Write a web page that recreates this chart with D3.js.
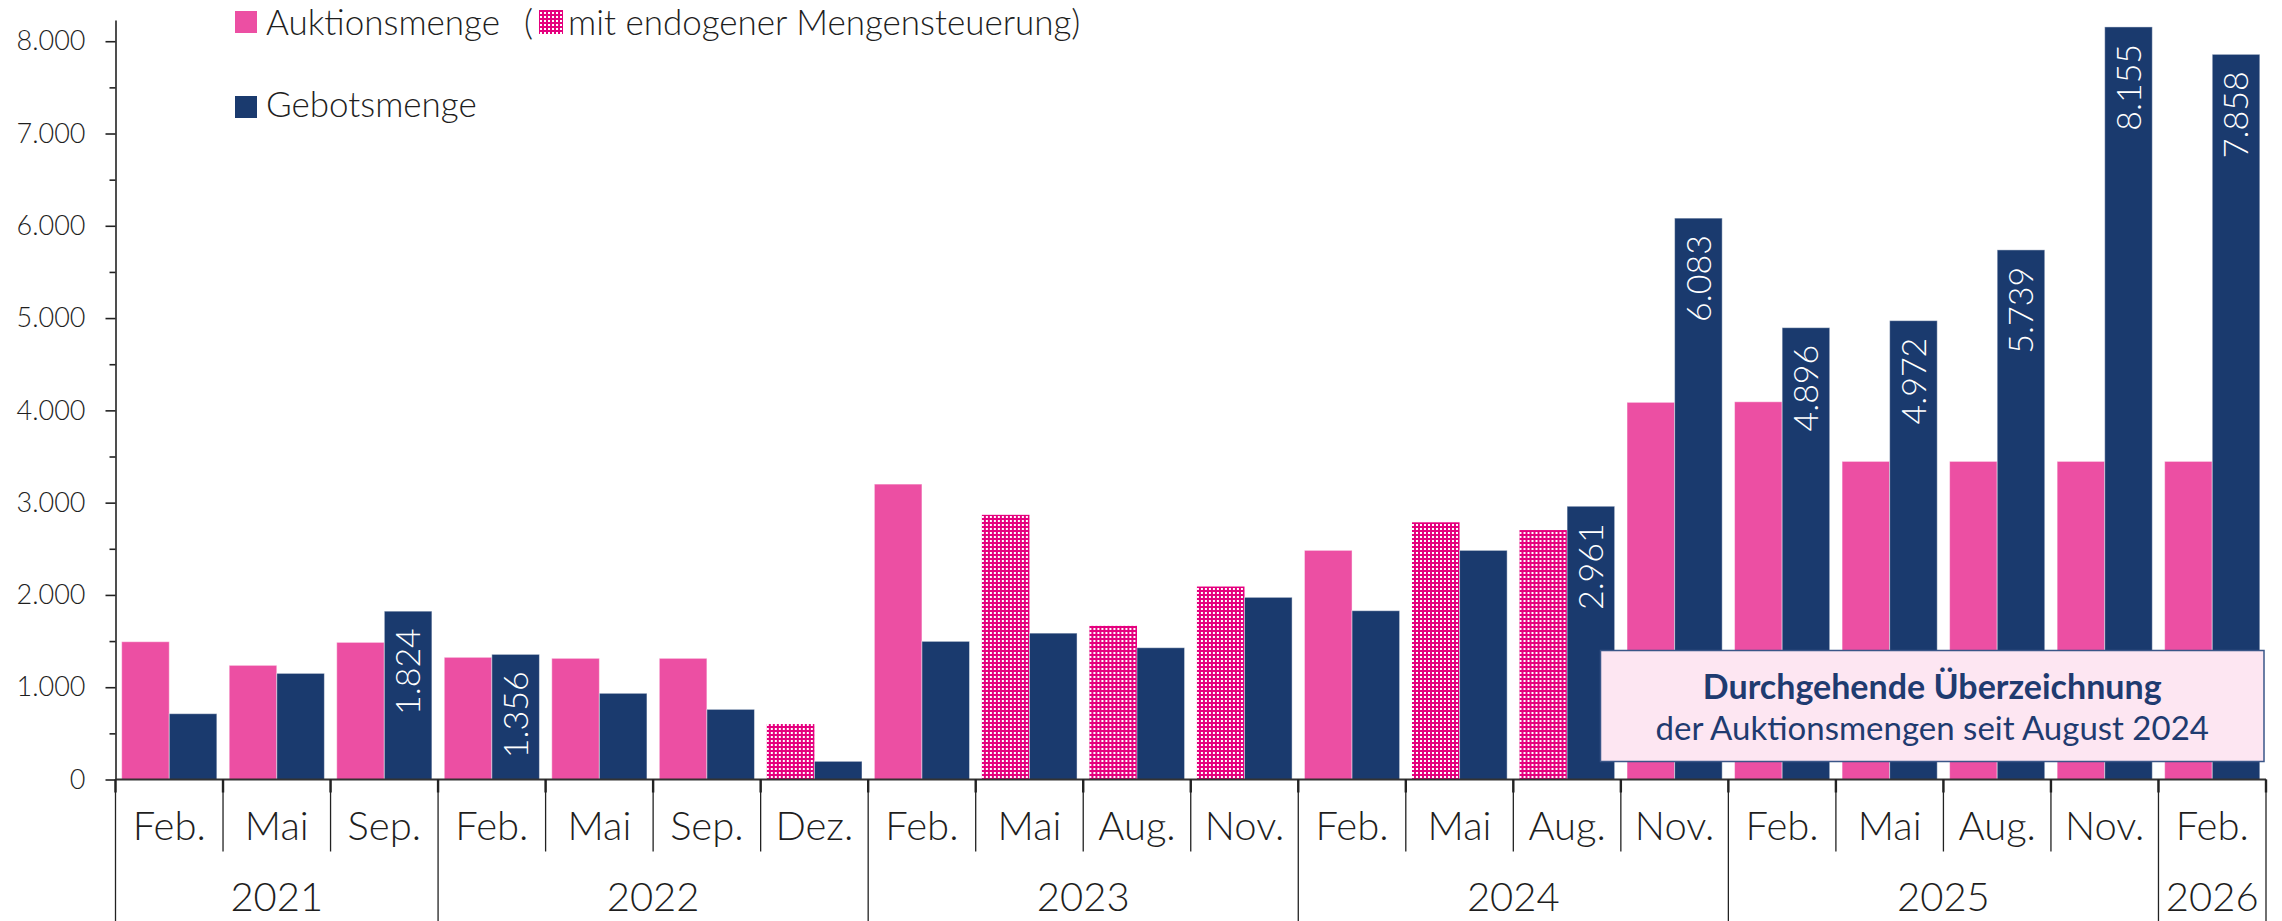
<!DOCTYPE html>
<html>
<head>
<meta charset="utf-8">
<script src="https://cdn.jsdelivr.net/npm/d3@7"></script>
<style>
  body { margin: 0; background: #fff; }
  svg { display: block; font-family: Lato, "Open Sans", sans-serif; }
  .y-label { font-size: 27px; font-weight: 300; fill: #1e1e1e; }
  .x-label { font-size: 40px; font-weight: 300; fill: #1e1e1e; }
  .legend-text { font-size: 35px; font-weight: 300; fill: #1e1e1e; }
  .value-label { font-size: 34px; font-weight: 300; fill: #fff; }
</style>
</head>
<body>
<svg class="svg-chart" width="2282" height="921"></svg>
<script>
// Auktionsrunden (Monat + Jahr)
const months = ["Feb.", "Mai", "Sep.", "Feb.", "Mai", "Sep.", "Dez.", "Feb.", "Mai", "Aug.", "Nov.",
  "Feb.", "Mai", "Aug.", "Nov.", "Feb.", "Mai", "Aug.", "Nov.", "Feb."];
const years = ["2021", "2021", "2021", "2022", "2022", "2022", "2022", "2023", "2023", "2023", "2023",
  "2024", "2024", "2024", "2024", "2025", "2025", "2025", "2025", "2026"];

// Werte in MW
const auktionsmenge = [1493, 1237, 1486, 1324, 1313, 1313, 601, 3201, 2868, 1665, 2091,
  2483, 2787, 2703, 4087, 4093, 3447, 3447, 3447, 3447];
const gebotsmenge = [713, 1150, 1824, 1356, 934, 760, 197, 1497, 1586, 1428, 1974,
  1829, 2483, 2961, 6083, 4896, 4972, 5739, 8155, 7858];
// Runden mit endogener Mengensteuerung
const endogen = [false, false, false, false, false, false, true, false, true, true, true,
  false, true, true, false, false, false, false, false, false];

const yTicks = [0, 1000, 2000, 3000, 4000, 5000, 6000, 7000, 8000];
const yMinorTicks = [500, 1500, 2500, 3500, 4500, 5500, 6500, 7500];

const PINK = "#EC4FA3";
const MAGENTA = "#E5007E";
const NAVY = "#1A3A6E";

class ChartService {
  constructor() {
    this.svg = d3.select(".svg-chart");
    this.margin = { top: 20, right: 16, bottom: 141.5, left: 115.5 };
    this.width = +this.svg.attr("width") - this.margin.left - this.margin.right;
    this.height = +this.svg.attr("height") - this.margin.top - this.margin.bottom;

    this.locale = d3.formatLocale({ decimal: ",", thousands: ".", grouping: [3], currency: ["", " €"] });
    this.fmt = this.locale.format(",");

    this.rows = months.map(function (m, i) {
      return { id: i, month: m, year: years[i], auktion: auktionsmenge[i], gebot: gebotsmenge[i], endogen: endogen[i] };
    });

    this.prepare();
    this.drawBars();
    this.drawAxes();
    this.drawLegend();
    this.drawNote();
  }

  prepare() {
    this.x0 = d3.scaleBand()
      .domain(this.rows.map(function (d) { return d.id; }))
      .range([0, this.width])
      .paddingInner(0.115)
      .paddingOuter(0.0575);
    this.x1 = d3.scaleBand()
      .domain(["auktion", "gebot"])
      .range([0, this.x0.bandwidth()]);
    this.y = d3.scaleLinear().domain([0, 8230]).range([this.height, 0]);

    // Karomuster fuer endogene Mengensteuerung
    const defs = this.svg.append("defs");
    const pat = defs.append("pattern")
      .attr("id", "endogen")
      .attr("width", 4).attr("height", 4)
      .attr("patternUnits", "userSpaceOnUse");
    pat.append("rect").attr("width", 4).attr("height", 4).attr("fill", MAGENTA);
    pat.append("rect").attr("x", 0).attr("y", 0).attr("width", 2).attr("height", 2).attr("fill", "#fff");

    this.focus = this.svg.append("g")
      .attr("transform", "translate(" + this.margin.left + "," + this.margin.top + ")");
  }

  // linke Kante einer Gruppe (Trennlinie)
  edge(i) {
    if (i >= this.rows.length) return this.width;
    return this.x0(i) - this.x0.step() * this.x0.paddingInner() / 2;
  }

  drawBars() {
    const self = this;
    const groups = this.focus.append("g").attr("class", "bars")
      .selectAll("g")
      .data(this.rows)
      .enter().append("g")
      .attr("transform", function (d) { return "translate(" + self.x0(d.id) + ",0)"; });

    groups.append("rect")
      .attr("x", this.x1("auktion"))
      .attr("y", function (d) { return self.y(d.auktion); })
      .attr("width", this.x1.bandwidth())
      .attr("height", function (d) { return self.height - self.y(d.auktion); })
      .attr("fill", function (d) { return d.endogen ? "url(#endogen)" : PINK; })
      .attr("stroke", function (d) { return d.endogen ? "none" : "#fff"; })
      .attr("stroke-opacity", 0.45)
      .attr("stroke-width", 1);

    groups.append("rect")
      .attr("x", this.x1("gebot"))
      .attr("y", function (d) { return self.y(d.gebot); })
      .attr("width", this.x1.bandwidth())
      .attr("height", function (d) { return self.height - self.y(d.gebot); })
      .attr("fill", NAVY)
      .attr("stroke", "#fff")
      .attr("stroke-opacity", 0.45)
      .attr("stroke-width", 1);

    // Wert nur bei Überzeichnung
    groups.filter(function (d) { return d.gebot > d.auktion; })
      .append("text")
      .attr("class", "value-label")
      .attr("transform", function (d) {
        return "translate(" + (self.x1("gebot") + self.x1.bandwidth() / 2) + "," + (self.y(d.gebot) + 17) + ") rotate(-90)";
      })
      .attr("text-anchor", "end")
      .attr("dy", "0.36em")
      .text(function (d) { return self.fmt(d.gebot); });
  }

  drawAxes() {
    const self = this;
    const yAxis = d3.axisLeft(this.y)
      .tickValues(yTicks)
      .tickSize(10)
      .tickSizeOuter(0)
      .tickPadding(20)
      .tickFormat(this.fmt);
    const gy = this.focus.append("g").attr("class", "axis axis--y").call(yAxis);
    gy.attr("font-family", null).attr("font-size", null);
    gy.selectAll("text").attr("class", "y-label").attr("fill", null);
    gy.selectAll("line").attr("stroke", "#222").attr("stroke-width", 1.6);
    gy.select(".domain").attr("stroke", "#222").attr("stroke-width", 1.6);

    const gyMinor = this.focus.append("g").attr("class", "axis axis--y-minor")
      .call(d3.axisLeft(this.y).tickValues(yMinorTicks).tickSize(6).tickFormat(""));
    gyMinor.select(".domain").remove();
    gyMinor.selectAll("line").attr("stroke", "#222").attr("stroke-width", 1.6);

    // x-Achse mit zwei Beschriftungsebenen
    const gx = this.focus.append("g").attr("class", "axis axis--x");
    const bottom = this.height + this.margin.bottom;
    const monthRowEnd = this.height + 72;

    gx.append("line")
      .attr("x1", 0).attr("x2", this.width)
      .attr("y1", this.height).attr("y2", this.height)
      .attr("stroke", "#333").attr("stroke-width", 2);

    const edges = d3.range(0, this.rows.length + 1);
    gx.selectAll(".divider")
      .data(edges)
      .enter().append("line")
      .attr("class", "divider")
      .attr("x1", function (i) { return self.edge(i); })
      .attr("x2", function (i) { return self.edge(i); })
      .attr("y1", this.height)
      .attr("y2", function (i) {
        const yearEdge = i === 0 || i === self.rows.length || self.rows[i].year !== self.rows[i - 1].year;
        return yearEdge ? bottom : monthRowEnd;
      })
      .attr("stroke", "#222").attr("stroke-width", 1.3);

    gx.selectAll(".xtick")
      .data(edges)
      .enter().append("line")
      .attr("class", "xtick")
      .attr("x1", function (i) { return self.edge(i); })
      .attr("x2", function (i) { return self.edge(i); })
      .attr("y1", this.height)
      .attr("y2", this.height + 13)
      .attr("stroke", "#222").attr("stroke-width", 2.4);

    gx.selectAll(".month")
      .data(this.rows)
      .enter().append("text")
      .attr("class", "x-label")
      .attr("text-anchor", "middle")
      .attr("x", function (d) { return self.x0(d.id) + self.x0.bandwidth() / 2; })
      .attr("y", this.height + 60)
      .text(function (d) { return d.month; });

    const yearGroups = d3.groups(this.rows, function (d) { return d.year; });
    gx.selectAll(".year")
      .data(yearGroups)
      .enter().append("text")
      .attr("class", "x-label")
      .attr("text-anchor", "middle")
      .attr("x", function (g) {
        const first = g[1][0].id, last = g[1][g[1].length - 1].id;
        return (self.edge(first) + self.edge(last + 1)) / 2;
      })
      .attr("y", this.height + 131)
      .text(function (g) { return g[0]; });
  }

  drawLegend() {
    const lg = this.svg.append("g").attr("class", "legend");
    lg.append("rect").attr("x", 235).attr("y", 11).attr("width", 22).attr("height", 22).attr("fill", PINK);
    lg.append("text").attr("class", "legend-text").attr("x", 266).attr("y", 35).text("Auktionsmenge");
    lg.append("text").attr("class", "legend-text").attr("x", 524).attr("y", 35).text("(");
    lg.append("rect").attr("x", 539).attr("y", 10).attr("width", 24).attr("height", 24).attr("fill", "url(#endogen)");
    lg.append("text").attr("class", "legend-text").attr("x", 568).attr("y", 35).text("mit endogener Mengensteuerung)");
    lg.append("rect").attr("x", 235).attr("y", 96).attr("width", 22).attr("height", 22).attr("fill", NAVY);
    lg.append("text").attr("class", "legend-text").attr("x", 266).attr("y", 117).text("Gebotsmenge");
  }

  drawNote() {
    const box = { x: 1600.5, y: 650.5, w: 663.5, h: 111 };
    const note = this.svg.append("g").attr("class", "note");
    note.append("rect")
      .attr("x", box.x).attr("y", box.y)
      .attr("width", box.w).attr("height", box.h)
      .attr("fill", "#FDE6F2")
      .attr("stroke", "#3A5688")
      .attr("stroke-width", 1.5);
    note.append("text")
      .attr("x", box.x + box.w / 2).attr("y", box.y + 48)
      .attr("text-anchor", "middle")
      .attr("font-size", 34).attr("font-weight", 700)
      .attr("fill", "#1F3B70")
      .text("Durchgehende Überzeichnung");
    note.append("text")
      .attr("x", box.x + box.w / 2).attr("y", box.y + 89)
      .attr("text-anchor", "middle")
      .attr("font-size", 33)
      .attr("fill", "#1F3B70")
      .text("der Auktionsmengen seit August 2024");
  }
}

new ChartService();
</script>
</body>
</html>
